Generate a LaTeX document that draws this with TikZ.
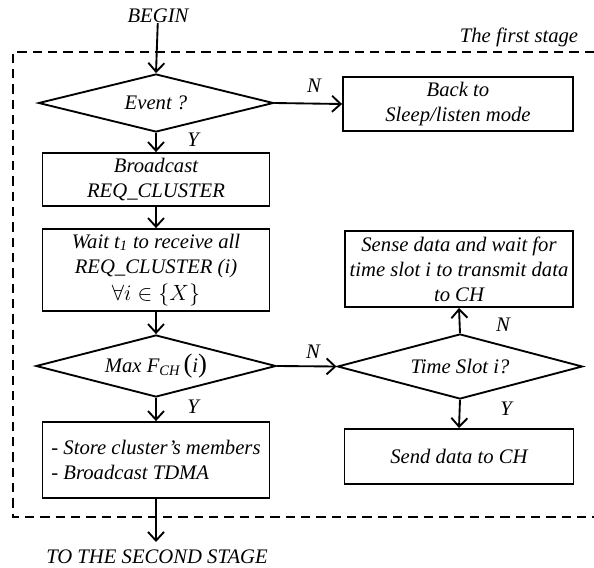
\documentclass[tikz,border=0pt]{standalone}
\usepackage{fontspec}
\setmainfont{Liberation Serif}
\usetikzlibrary{shapes.geometric,arrows.meta}
\begin{document}
\begin{tikzpicture}[x=0.75pt,y=-0.75pt,
  every node/.style={font=\fontsize{15.5}{18.8}\selectfont\itshape},
  box/.style={draw,line width=1.4pt,inner sep=1pt,align=center},
  dia/.style={draw,line width=1.4pt,diamond,aspect=4,inner sep=0pt},
  lbl/.style={inner sep=0pt},
  conn/.style={line width=1.4pt,-{Straight Barb[length=6.5pt,width=12pt,line width=1.4pt]}},
  stageline/.style={line width=1.4pt,dash pattern=on 7pt off 4.5pt}]
\useasboundingbox (0,0) rectangle (594,568);
% stage frame
\draw[stageline] (594,52) -- (13,52) -- (13,517) -- (594,517);
\node[lbl] (stage) at (519,37) {The first stage};
% nodes
\node[lbl] (begin) at (158,16) {BEGIN};
\node[dia,minimum width=176.25pt,minimum height=43.5pt] (event) at (156,103) {Event ?};
\node[box,minimum width=172.5pt,minimum height=40.5pt] (back) at (458,104) {Back to\\Sleep/listen mode};
\node[box,minimum width=170.25pt,minimum height=39.75pt] (bcast) at (156,179.5) {Broadcast\\REQ\_CLUSTER};
\node[box,minimum width=170.25pt,minimum height=61.5pt,inner sep=0pt] (wait) at (156,270) {Wait t\textsubscript{1} to receive all\\REQ\_CLUSTER (i)\\[2pt]\upshape\scalebox{1.15}{$\forall i \in \big\{ X \big\}$}};
\node[dia,minimum width=180pt,minimum height=46.5pt] (max) at (156,366) {Max F\textsubscript{CH}\,{\upshape\fontsize{20}{20}\selectfont(}i{\upshape\fontsize{20}{20}\selectfont)}};
\node[box,minimum width=170.25pt,minimum height=57pt,align=left,inner sep=0pt] (store) at (156,460) {- Store cluster’s members\\- Broadcast TDMA};
\node[dia,minimum width=183.75pt,minimum height=48.75pt] (time) at (460,366.5) {Time Slot i?};
\node[box,minimum width=171pt,minimum height=57pt,inner sep=0pt] (sense) at (459,269) {Sense data and wait for\\time slot i to transmit data\\to CH};
\node[box,minimum width=171.75pt,minimum height=41.25pt] (send) at (459,456.5) {Send data to CH};
\coordinate (out) at (156,542);
\node[lbl] (second) at (157,557) {TO THE SECOND STAGE};
% connectors
\draw[conn] (begin) -- (event.north);
\draw[conn] (event.south) -- (bcast.north);
\draw[conn] (event.east) -- (back.west);
\draw[conn] (bcast.south) -- (wait.north);
\draw[conn] (wait.south) -- (max.north);
\draw[conn] (max.south) -- (store.north);
\draw[conn] (max.east) -- (time.west);
\draw[conn] (time.north) -- (sense.south);
\draw[conn] (time.south) -- (send.north);
\draw[conn] (store.south) -- (out);
% labels
\node[lbl] (y1) at (193,140) {Y};
\node[lbl] (n1) at (314,86) {N};
\node[lbl] (y2) at (193,407) {Y};
\node[lbl] (n2) at (313,352) {N};
\node[lbl] (n3) at (503,325) {N};
\node[lbl] (y3) at (506,409) {Y};
\end{tikzpicture}
\end{document}
